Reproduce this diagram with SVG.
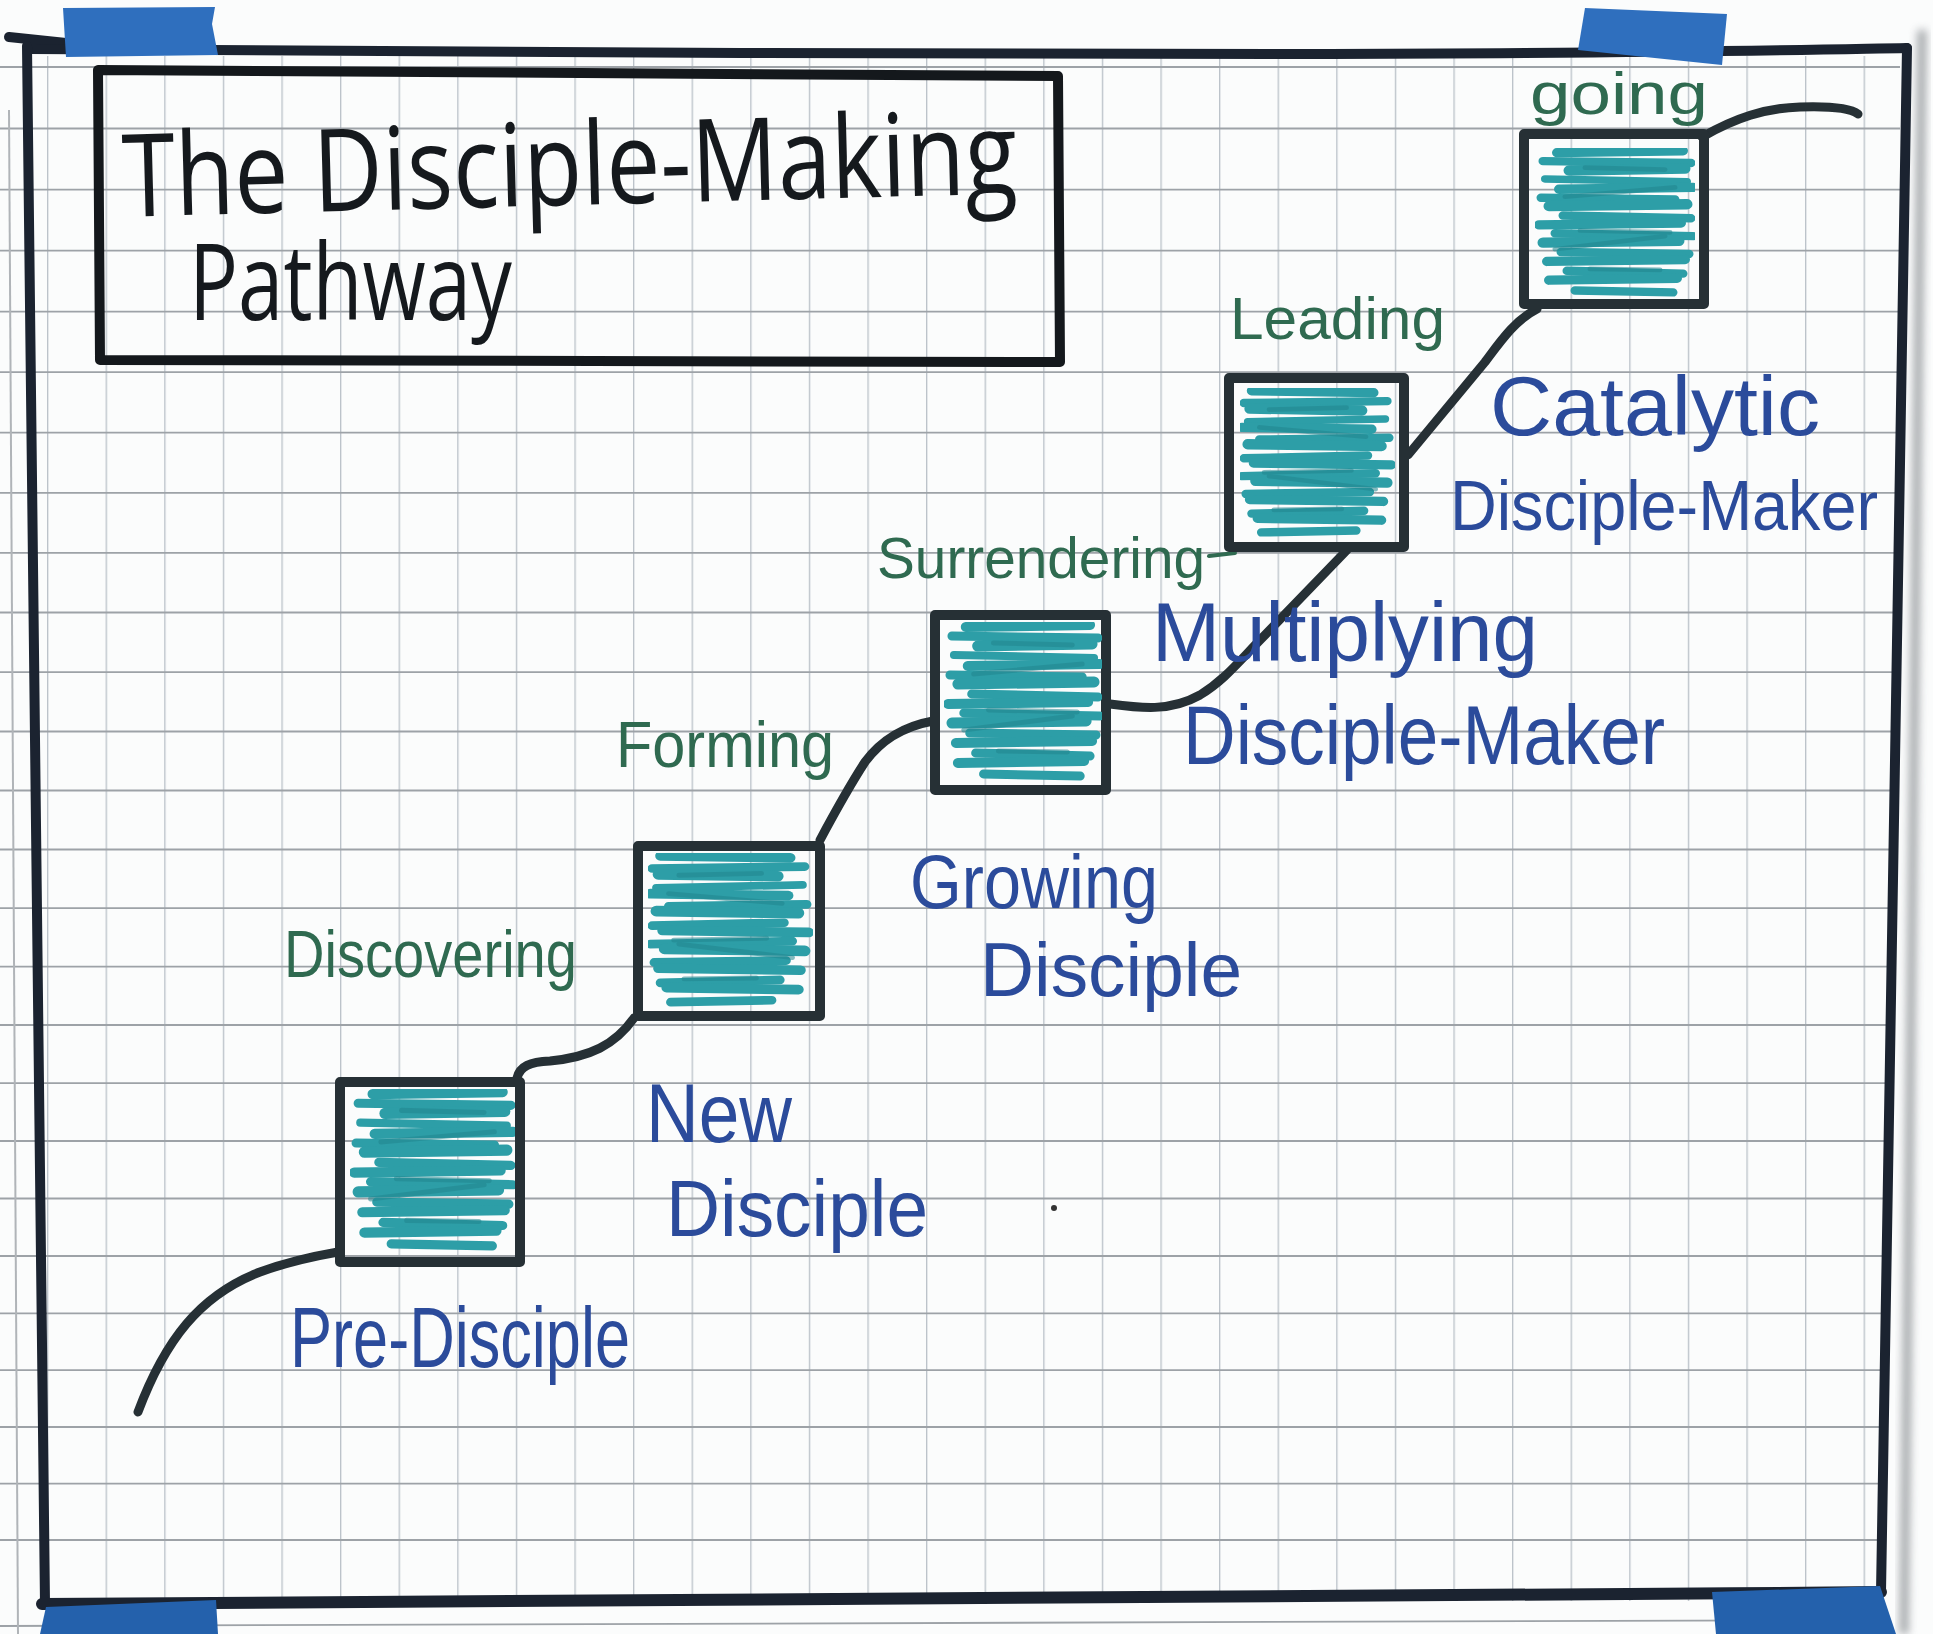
<svg xmlns="http://www.w3.org/2000/svg" width="1933" height="1634" viewBox="0 0 1933 1634">
<defs>
<style>
.hg{stroke:#9da2a7;stroke-width:1.8;fill:none}
.vg{stroke:#b9c0c8;stroke-width:1.3}
.frame{fill:none;stroke:#1b2330;stroke-width:10;stroke-linecap:round;stroke-linejoin:round}
.tape{fill:#2f6fbe}
.tapeb{fill:#2461ac}
.box{fill:none;stroke:#263035;stroke-width:10;stroke-linejoin:round}
.tbox{fill:none;stroke:#14181c;stroke-width:10;stroke-linejoin:round}
.conn{fill:none;stroke:#263035;stroke-width:9;stroke-linecap:round;stroke-linejoin:round}
.sc{stroke:#2d9ea7;stroke-linecap:round}
.sc2{stroke:#22868f;stroke-width:5;stroke-linecap:round;opacity:.55}
text{font-family:"Liberation Sans","Open Sans",sans-serif}
.title{font-family:"Open Sans","Liberation Sans",sans-serif;font-size:115px;fill:#15191d}
.green{fill:#2f6a50;font-size:60px}
.blue{fill:#2b4b9b;font-size:84px}
</style>
<pattern id="vgrid" patternUnits="userSpaceOnUse" x="47" y="0" width="58.6" height="1634"><line class="vg" x1="0.7" y1="0" x2="0.7" y2="1634"/></pattern>
<g id="scribLines">
<g class="sc">
<line x1="22" y1="5" x2="148" y2="3" stroke-width="10"/>
<line x1="8" y1="14" x2="156" y2="16" stroke-width="9"/>
<line x1="34" y1="24" x2="150" y2="22" stroke-width="11"/>
<line x1="10" y1="33" x2="152" y2="36" stroke-width="8"/>
<line x1="24" y1="44" x2="158" y2="42" stroke-width="10"/>
<line x1="6" y1="53" x2="140" y2="55" stroke-width="9"/>
<line x1="14" y1="62" x2="152" y2="60" stroke-width="11"/>
<line x1="28" y1="72" x2="156" y2="75" stroke-width="9"/>
<line x1="4" y1="82" x2="146" y2="80" stroke-width="10"/>
<line x1="20" y1="91" x2="158" y2="94" stroke-width="9"/>
<line x1="8" y1="101" x2="144" y2="99" stroke-width="11"/>
<line x1="26" y1="111" x2="154" y2="113" stroke-width="9"/>
<line x1="12" y1="121" x2="150" y2="119" stroke-width="10"/>
<line x1="32" y1="131" x2="148" y2="134" stroke-width="9"/>
<line x1="14" y1="141" x2="142" y2="139" stroke-width="10"/>
<line x1="40" y1="152" x2="138" y2="154" stroke-width="9"/>
</g>
<g class="sc2">
<line x1="50" y1="21" x2="130" y2="23"/>
<line x1="30" y1="52" x2="140" y2="42"/>
<line x1="45" y1="88" x2="135" y2="90"/>
<line x1="20" y1="108" x2="130" y2="94"/>
<line x1="55" y1="129" x2="125" y2="130"/>
</g>
</g>
<symbol id="scribA" viewBox="0 0 160 160" preserveAspectRatio="none"><use href="#scribLines"/></symbol>
<symbol id="scribB" viewBox="0 0 160 160" preserveAspectRatio="none"><use href="#scribLines" transform="translate(160 0) scale(-1 1)"/></symbol>
<filter id="blur" x="-50%" y="-5%" width="200%" height="110%"><feGaussianBlur stdDeviation="4"/></filter>
</defs>

<rect width="1933" height="1634" fill="#fbfcfc"/>

<g id="grid">
<rect x="30" y="56" width="1865" height="1545" fill="url(#vgrid)"/>
<g class="hg">
<line x1="0" y1="67" x2="1900" y2="67"/>
<line x1="0" y1="128.5" x2="1900" y2="128.5"/>
<line x1="0" y1="189.7" x2="1900" y2="189.7"/>
<line x1="0" y1="250.7" x2="1900" y2="250.7"/>
<line x1="0" y1="311.6" x2="1900" y2="311.6"/>
<line x1="0" y1="372.2" x2="1900" y2="372.2"/>
<line x1="0" y1="432.6" x2="1900" y2="432.6"/>
<line x1="0" y1="492.8" x2="1899" y2="492.8"/>
<line x1="0" y1="552.8" x2="1899" y2="552.8"/>
<line x1="0" y1="612.5" x2="1898" y2="612.5"/>
<line x1="0" y1="672.1" x2="1898" y2="672.1"/>
<line x1="0" y1="731.5" x2="1897" y2="731.5"/>
<line x1="0" y1="790.5" x2="1897" y2="790.5"/>
<line x1="0" y1="849.5" x2="1896" y2="849.5"/>
<line x1="0" y1="908.2" x2="1896" y2="908.2"/>
<line x1="0" y1="966.7" x2="1895" y2="966.7"/>
<line x1="0" y1="1025" x2="1895" y2="1025"/>
<line x1="0" y1="1083.1" x2="1894" y2="1083.1"/>
<line x1="0" y1="1141" x2="1893" y2="1141"/>
<line x1="0" y1="1198.5" x2="1892" y2="1198.5"/>
<line x1="0" y1="1256" x2="1891" y2="1256"/>
<line x1="0" y1="1313.3" x2="1890" y2="1313.3"/>
<line x1="0" y1="1370.2" x2="1889" y2="1370.2"/>
<line x1="0" y1="1427" x2="1888" y2="1427"/>
<line x1="0" y1="1483.6" x2="1887" y2="1483.6"/>
<line x1="0" y1="1540" x2="1886" y2="1540"/>
<line x1="0" y1="1626" x2="1886" y2="1620"/>
</g>
</g>

<g id="board-frame">
<path d="M1922,30 L1904,1634" stroke="#6a6f75" stroke-width="9" fill="none" opacity=".6" filter="url(#blur)"/>
<path d="M9,110 L18,1634" stroke="#b0b4b8" stroke-width="2" fill="none"/>
<path class="frame" d="M9,37 L66,43"/>
<path class="frame" d="M30,49 C400,51 900,55 1300,54 S1800,50 1907,48"/>
<path class="frame" d="M27,46 L45,1604"/>
<path class="frame" d="M1907,48 L1881,1592"/>
<path class="frame" style="stroke-width:12" d="M42,1604 C500,1605 1200,1598 1881,1592"/>
<polygon class="tape" points="63,8 215,7 212,24 218,55 66,57"/>
<polygon class="tape" points="1585,8 1727,14 1722,65 1578,50"/>
<polygon class="tapeb" points="46,1607 216,1600 218,1634 40,1634"/>
<polygon class="tapeb" points="1712,1592 1880,1586 1896,1634 1716,1634"/>
</g>

<g id="title">
<path class="tbox" d="M98,70 L1058,76 L1060,362 L100,360 Z"/>
<text class="title" x="123" y="205" textLength="895" lengthAdjust="spacingAndGlyphs" transform="rotate(-1.5 570 200)">The Disciple-Making</text>
<text class="title" x="189" y="320" textLength="323" lengthAdjust="spacingAndGlyphs" style="font-size:106px">Pathway</text>
</g>

<g id="connectors">
<path class="conn" d="M138,1412 C165,1340 200,1295 260,1272 C290,1261 315,1256 338,1252"/>
<path class="conn" d="M517,1078 C520,1066 530,1062 550,1061 C590,1057 615,1045 634,1018"/>
<path class="conn" d="M820,840 C835,812 850,785 865,762 C880,742 900,727 933,721"/>
<path class="conn" d="M1110,704 C1140,708 1170,712 1200,695 C1225,680 1240,660 1265,635 L1347,550"/>
<path class="conn" d="M1408,455 L1485,362 C1500,342 1515,320 1537,309"/>
<path class="conn" d="M1702,137 C1735,118 1765,108 1800,107 C1830,106 1850,108 1858,114"/>
<text class="green" x="284" y="977" textLength="293" lengthAdjust="spacingAndGlyphs" style="font-size:66px">Discovering</text>
<text class="green" x="616" y="767" textLength="218" lengthAdjust="spacingAndGlyphs" style="font-size:64px">Forming</text>
<text class="green" x="877" y="578" textLength="328" lengthAdjust="spacingAndGlyphs" style="font-size:58px">Surrendering</text>
<path d="M1209,556 L1235,553" stroke="#2f6a50" stroke-width="4" stroke-linecap="round"/>
<text class="green" x="1230" y="339" textLength="215" lengthAdjust="spacingAndGlyphs" style="font-size:60px">Leading</text>
<text class="green" x="1530" y="114" textLength="178" lengthAdjust="spacingAndGlyphs" style="font-size:60px">going</text>
</g>

<g id="node-pre-disciple">
<rect class="box" x="340" y="1082" width="180" height="180"/>
<use href="#scribA" x="350" y="1089" width="165" height="163"/>
<text class="blue" x="290" y="1367" textLength="340" lengthAdjust="spacingAndGlyphs" style="font-size:86px">Pre-Disciple</text>
</g>

<g id="node-new-disciple">
<rect class="box" x="638" y="846" width="182" height="170"/>
<use href="#scribB" x="648" y="853" width="165" height="155"/>
<text class="blue" x="646" y="1142" textLength="146" lengthAdjust="spacingAndGlyphs">New</text>
<text class="blue" x="666" y="1236" textLength="262" lengthAdjust="spacingAndGlyphs" style="font-size:80px">Disciple</text>
</g>

<g id="node-growing-disciple">
<rect class="box" x="935" y="615" width="171" height="175"/>
<use href="#scribA" x="944" y="622" width="158" height="160"/>
<text class="blue" x="910" y="908" textLength="248" lengthAdjust="spacingAndGlyphs" style="font-size:76px">Growing</text>
<text class="blue" x="980" y="996" textLength="262" lengthAdjust="spacingAndGlyphs" style="font-size:76px">Disciple</text>
</g>

<g id="node-multiplying-disciple-maker">
<rect class="box" x="1229" y="378" width="175" height="169"/>
<use href="#scribB" x="1240" y="388" width="155" height="150"/>
<text class="blue" x="1152" y="661" textLength="386" lengthAdjust="spacingAndGlyphs">Multiplying</text>
<text class="blue" x="1183" y="764" textLength="482" lengthAdjust="spacingAndGlyphs">Disciple-Maker</text>
</g>

<g id="node-catalytic-disciple-maker">
<rect class="box" x="1524" y="134" width="180" height="170"/>
<use href="#scribA" x="1535" y="148" width="160" height="150"/>
<text class="blue" x="1490" y="435" textLength="330" lengthAdjust="spacingAndGlyphs">Catalytic</text>
<text class="blue" x="1450" y="530" textLength="428" lengthAdjust="spacingAndGlyphs" style="font-size:70px">Disciple-Maker</text>
</g>

<circle cx="1054" cy="1208" r="3" fill="#333"/>
</svg>
